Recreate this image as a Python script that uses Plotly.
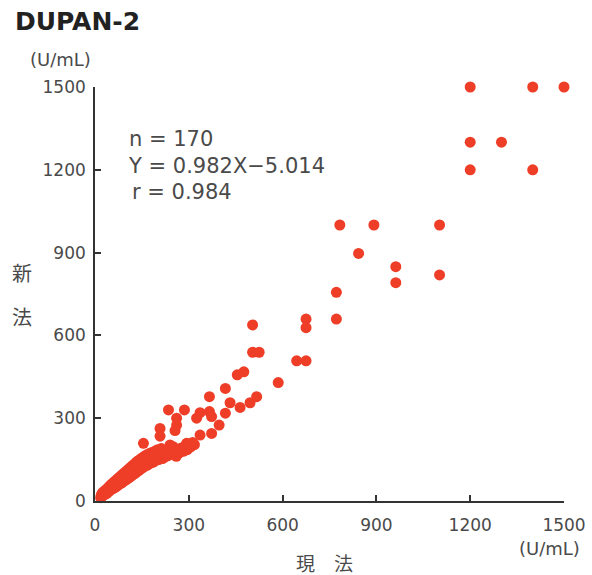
import plotly.graph_objects as go

# ---- data ----
sparse_x = [1200, 1400, 1500, 1200, 1300, 1200, 1400, 783, 892, 1102,
            843, 962, 962, 1102, 772, 675, 675, 772, 675, 645,
            504, 504, 525, 455, 476, 586, 432, 464, 496, 517,
            417, 366, 235, 286, 336, 366, 325, 373, 417, 261,
            261, 256, 208, 208, 397, 373, 336, 293, 240, 155,
            218, 266, 192, 250]
sparse_y = [1500, 1500, 1500, 1300, 1300, 1200, 1200, 1000, 1000, 1000,
            897, 849, 791, 819, 756, 659, 628, 659, 508, 508,
            638, 539, 539, 457, 468, 429, 356, 339, 356, 378,
            408, 378, 330, 330, 320, 324, 300, 306, 318, 300,
            275, 255, 263, 235, 275, 245, 239, 209, 203, 209,
            179, 172, 167, 197]

dense_x = [18, 20, 22, 24, 26, 28, 30, 32, 34, 36, 38, 40, 42, 44, 46, 48, 50, 52, 54, 56,
           58, 60, 62, 64, 66, 68, 70, 72, 74, 76, 78, 80, 82, 84, 86, 88, 90, 92, 94, 96,
           98, 100, 102, 104, 106, 108, 110, 112, 114, 116, 118, 120, 122, 124, 126, 128, 130, 132, 134, 136,
           138, 140, 142, 144, 146, 148, 150, 152, 155, 158, 160, 163, 166, 168, 171, 174, 176, 179, 182, 185,
           188, 191, 194, 197, 200, 204, 208, 212, 216, 220, 224, 228, 232, 236, 240, 245, 250, 255, 260, 265,
           270, 276, 282, 288, 295, 300, 306, 312, 318, 60, 85, 110, 135, 160, 190, 215]
dense_y = [12, 22, 16, 30, 20, 26, 36, 24, 32, 42, 28, 38, 48, 34, 44, 56, 40, 50, 62, 44,
           54, 68, 48, 60, 74, 52, 64, 80, 58, 70, 86, 62, 76, 92, 66, 80, 98, 72, 86, 104,
           76, 92, 110, 80, 96, 116, 86, 102, 122, 90, 108, 128, 96, 112, 134, 100, 118, 140, 106, 124,
           146, 110, 128, 150, 116, 134, 156, 120, 138, 162, 126, 144, 168, 130, 150, 172, 136, 156, 176, 140,
           160, 180, 146, 165, 186, 150, 170, 190, 154, 174, 160, 180, 164, 186, 168, 190, 172, 182, 162, 186,
           175, 192, 180, 198, 186, 205, 196, 212, 204, 58, 84, 108, 130, 150, 172, 182]

x_vals = sparse_x + dense_x
y_vals = sparse_y + dense_y

tick_vals = [0, 300, 600, 900, 1200, 1500]
tick_text = ["0", "300", "600", "900", "1200", "1500"]

stats_lines = ["n = 170", "Y = 0.982X\u22125.014", "r = 0.984"]

# ---- layout geometry ----
W, H = 592, 575
L, R, T, B = 95, 28, 87, 74
PW, PH = W - L - R, H - T - B


def px(x):
    return (x - L) / PW


def py(y):
    return (H - B - y) / PH


DOT = "#EE3E28"
TXT = "#4a4a4a"
AX = "#333333"
FONT = "DejaVu Sans"
JP = "Noto Sans CJK JP"

fig = go.Figure(go.Scatter(
    x=x_vals, y=y_vals, mode="markers",
    marker=dict(size=11, color=DOT, line=dict(width=0)),
    cliponaxis=False, hoverinfo="x+y"))

axis_common = dict(
    range=[0, 1500], tickvals=tick_vals, ticktext=tick_text, automargin=False,
    showgrid=False, zeroline=False, showline=True, linecolor=AX, linewidth=1.6,
    ticks="inside", ticklen=6, tickwidth=1.5, tickcolor=AX,
    tickfont=dict(family=FONT, size=17, color=TXT), fixedrange=True)

fig.update_layout(
    width=W, height=H, autosize=False, margin=dict(l=L, r=R, t=T, b=B),
    paper_bgcolor="white", plot_bgcolor="white", showlegend=False,
    xaxis=dict(**axis_common, ticklabelstandoff=8),
    yaxis=dict(**axis_common, ticklabelstandoff=4),
)

ann = []
ann.append(dict(text="<b>DUPAN-2</b>", x=px(13), y=py(22), xanchor="left", yanchor="middle",
                font=dict(family=FONT, size=25, color="#222222")))
ann.append(dict(text="(U/mL)", x=px(60), y=py(60), xanchor="center", yanchor="middle",
                font=dict(family=FONT, size=18, color=TXT)))
ann.append(dict(text="(U/mL)", x=px(582), y=py(548), xanchor="right", yanchor="middle",
                font=dict(family=FONT, size=18, color=TXT)))
ann.append(dict(text="現\u3000法", x=px(324), y=py(562), xanchor="center", yanchor="middle",
                font=dict(family=JP, size=19, color=TXT)))
ann.append(dict(text="新", x=px(22), y=py(272), xanchor="center", yanchor="middle",
                font=dict(family=JP, size=20, color=TXT)))
ann.append(dict(text="法", x=px(22), y=py(316), xanchor="center", yanchor="middle",
                font=dict(family=JP, size=20, color=TXT)))
for i, (line, xl) in enumerate(zip(stats_lines, [127, 126, 130])):
    ann.append(dict(text=line, x=px(xl), y=py(139 + 26.5 * i), xanchor="left", yanchor="middle",
                    font=dict(family=FONT, size=21, color=TXT)))

for a in ann:
    a.update(xref="paper", yref="paper", showarrow=False)
fig.update_layout(annotations=ann)

fig.write_html("out.html", config={"displayModeBar": False, "responsive": False},
               default_width="592px", default_height="575px",
               post_script="document.body.style.margin='0';document.body.style.padding='0';"
                           "document.documentElement.style.overflow='hidden';"
                           "document.body.style.overflow='hidden';")
